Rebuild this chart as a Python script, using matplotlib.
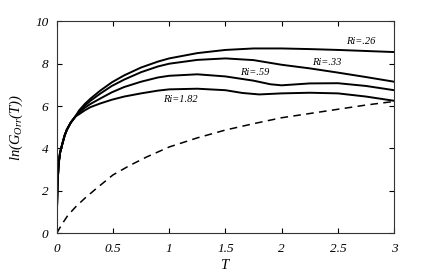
import matplotlib
matplotlib.use("Agg")
import matplotlib.pyplot as plt

plt.rcParams['font.family'] = ['Liberation Serif', 'DejaVu Serif']
plt.rcParams['font.style'] = 'italic'
plt.rcParams['mathtext.fontset'] = 'custom'
plt.rcParams['mathtext.it'] = 'Liberation Serif:italic'
plt.rcParams['mathtext.rm'] = 'Liberation Serif:italic'

# shared steep start of the four solid curves
t_early = [0, 0.003, 0.008, 0.018, 0.03, 0.047, 0.07, 0.09, 0.125, 0.165]
g_early = [0, 1.25, 2.4, 3.3, 3.8, 4.15, 4.6, 4.88, 5.22, 5.5]

t_026 = [0.2, 0.25, 0.3, 0.385, 0.49, 0.6, 0.75, 0.9, 1.0, 1.25, 1.5, 1.75, 2.0, 2.25, 2.5, 2.75, 3.0]
ri_026 = [5.8, 6.1, 6.35, 6.72, 7.12, 7.45, 7.82, 8.1, 8.25, 8.5, 8.65, 8.72, 8.72, 8.69, 8.65, 8.6, 8.55]

t_033 = [0.2, 0.25, 0.3, 0.385, 0.49, 0.6, 0.75, 0.9, 1.0, 1.25, 1.5, 1.75, 2.0, 2.25, 2.5, 2.75, 3.0]
ri_033 = [5.75, 6.02, 6.25, 6.58, 6.95, 7.25, 7.6, 7.87, 8.0, 8.18, 8.25, 8.17, 7.95, 7.78, 7.58, 7.37, 7.15]

t_059 = [0.2, 0.25, 0.3, 0.385, 0.49, 0.6, 0.75, 0.9, 1.0, 1.25, 1.5, 1.75, 1.9, 2.0, 2.25, 2.5, 2.75, 3.0]
ri_059 = [5.7, 5.92, 6.1, 6.35, 6.65, 6.9, 7.15, 7.35, 7.43, 7.5, 7.4, 7.2, 7.03, 6.98, 7.07, 7.08, 6.95, 6.75]

t_182 = [0.2, 0.25, 0.3, 0.385, 0.49, 0.6, 0.75, 0.9, 1.0, 1.25, 1.5, 1.65, 1.8, 2.0, 2.25, 2.5, 2.75, 3.0]
ri_182 = [5.62, 5.8, 5.95, 6.12, 6.3, 6.45, 6.6, 6.73, 6.79, 6.82, 6.75, 6.62, 6.55, 6.6, 6.63, 6.6, 6.45, 6.25]

t_dash = [0, 0.05, 0.1, 0.17, 0.25, 0.35, 0.5, 0.65, 0.8, 1.0, 1.25, 1.5, 1.75, 2.0, 2.25, 2.5, 2.75, 3.0]
g_dash = [0, 0.45, 0.85, 1.25, 1.65, 2.1, 2.75, 3.2, 3.6, 4.07, 4.5, 4.87, 5.17, 5.45, 5.65, 5.85, 6.05, 6.22]

labels = ['Ri=.26', 'Ri=.33', 'Ri=.59', 'Ri=1.82']
label_pos = [(2.7, 9.04), (2.4, 8.05), (1.76, 7.58), (1.1, 6.32)]

fig = plt.figure(figsize=(4.36, 2.77), dpi=100)
ax = fig.add_axes([0.130, 0.158, 0.774, 0.765])

for t, series in [(t_026, ri_026), (t_033, ri_033), (t_059, ri_059), (t_182, ri_182)]:
    ax.plot(t_early + t, g_early + series, color='black', lw=1.4)

ax.plot(t_dash, g_dash, color='black', lw=1.1, dashes=(5, 3.5))

for lab, (x, y) in zip(labels, label_pos):
    ax.text(x, y, lab, fontsize=7.5, style='italic', ha='center', va='center')

ax.set_xlim(0, 3)
ax.set_ylim(0, 10)
ax.set_xticks([0, 0.5, 1, 1.5, 2, 2.5, 3])
ax.set_xticklabels(['0', '0.5', '1', '1.5', '2', '2.5', '3'])
ax.set_yticks([0, 2, 4, 6, 8, 10])
ax.set_yticklabels(['0', '2', '4', '6', '8', '10'])
ax.tick_params(direction='in', top=True, right=True, length=3.5, width=0.8,
               labelsize=9.5)
ax.tick_params(axis='x', pad=7)
ax.tick_params(axis='y', pad=6)
for s in ax.spines.values():
    s.set_linewidth(0.8)
    s.set_color('#333333')

ax.set_xlabel('$T$', fontsize=10.5, labelpad=2)
ax.set_ylabel('$ln(G_{Orr}(T))$', fontsize=10.5, labelpad=7)

fig.savefig('out.png', dpi=100)
